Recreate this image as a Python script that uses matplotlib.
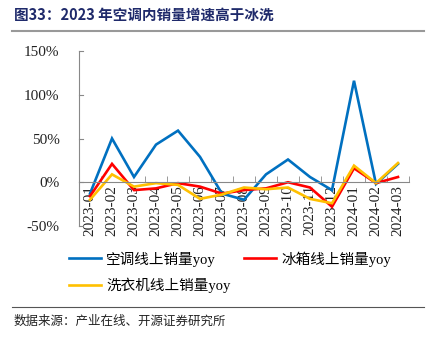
import numpy as np
import matplotlib.pyplot as plt
from matplotlib.lines import Line2D

plt.rcParams['font.family'] = ['Liberation Serif', 'Noto Sans CJK SC', 'DejaVu Sans']

# Data (YoY growth, %)
months = ['2023-01', '2023-02', '2023-03', '2023-04', '2023-05', '2023-06', '2023-07',
          '2023-08', '2023-09', '2023-10', '2023-11', '2023-12', '2024-01', '2024-02', '2024-03']
ac = [-13, 50, 6, 43, 59, 29, -13, -20, 9, 26, 6, -9, 116, -2, 21]
fridge = [-16, 21, -9, -7, -1, -5, -13, -9, -7, 0, -6, -28, 16, -1, 6]
washer = [-20, 9, -5, -1, -3, -19, -14, -6, -8, -6, -19, -24, 19, -1, 22]

names = ['空调线上销量yoy', '冰箱线上销量yoy', '洗衣机线上销量yoy']
colors = ['#0070C0', '#FF0000', '#FFC000']

fig = plt.figure(figsize=(4.37, 3.4), dpi=100)
W, H = 437, 340

# Title and rules
fig.text(14 / W, 1 - 15 / H, '图33：2023 年空调内销量增速高于冰洗', fontsize=10.5,
         fontweight='bold', color='#1F2A6B', va='center', ha='left',
         family=['Noto Sans CJK SC', 'DejaVu Sans'])
fig.add_artist(Line2D([12 / W, 424 / W], [1 - 31 / H, 1 - 31 / H], color='#999999', lw=1.5))
fig.add_artist(Line2D([12 / W, 424 / W], [1 - 307 / H, 1 - 307 / H], color='#555555', lw=0.8))
fig.text(14 / W, 1 - 321 / H, '数据来源：产业在线、开源证券研究所', fontsize=9,
         color='#222222', va='center', ha='left', family=['Noto Sans CJK SC', 'DejaVu Sans'])

# Axes: left 79, right 409, top 51 (150%), bottom 226 (-50%)
ax = fig.add_axes([79 / W, 1 - 226 / H, 330 / W, 175 / H])
x = np.arange(len(months))
lines = []
for vals, c, n in zip([ac, fridge, washer], colors, names):
    ln, = ax.plot(x, vals, color=c, lw=1.9, label=n, solid_joinstyle='miter')
    lines.append(ln)

ax.set_xlim(-0.5, len(months) - 0.5)
ax.set_ylim(-50, 150)
ax.set_yticks([-50, 0, 50, 100, 150])
ax.set_yticklabels(['-50%', '0%', '50%', '100%', '150%'], fontsize=11, color='#222222')
ax.tick_params(axis='y', direction='in', length=0, pad=14, color='#888888')
for t in [-50, 0, 50, 100, 150]:
    ax.plot([-0.5, -0.3], [t, t], color='#888888', lw=0.8, clip_on=False)

ax.spines['top'].set_visible(False)
ax.spines['right'].set_visible(False)
ax.spines['bottom'].set_position(('data', 0))
ax.spines['bottom'].set_color('#888888')
ax.spines['left'].set_color('#888888')
ax.spines['left'].set_linewidth(0.8)
ax.spines['bottom'].set_linewidth(0.8)

ax.set_xticks(x)
ax.set_xticklabels(months, rotation=90, fontsize=11, color='#222222', va='top')
ax.tick_params(axis='x', length=0, pad=2)
ax.set_xticks(np.arange(-0.5, len(months), 1), minor=True)
ax.tick_params(axis='x', which='minor', direction='in', length=4, color='#888888')

# column-major fill: AC, washer in column 1; fridge in column 2
order = [0, 2, 1]
fig.legend([lines[i] for i in order], [names[i] for i in order],
           loc='upper left', bbox_to_anchor=(56 / W, 1 - 238 / H), ncol=2, frameon=False,
           prop={'family': ['Liberation Serif', 'Noto Sans CJK SC', 'DejaVu Sans'], 'size': 10.5},
           handlelength=2.2, columnspacing=0.9, labelspacing=0.75, handletextpad=0.35)

fig.savefig('out.png', dpi=100)
